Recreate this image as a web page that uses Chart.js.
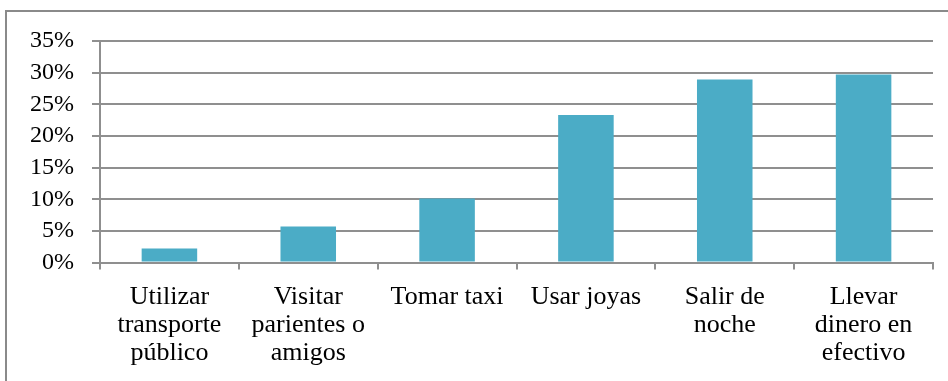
<!DOCTYPE html>
<html>
<head>
<meta charset="utf-8">
<script src="https://cdn.jsdelivr.net/npm/chart.js@4/dist/chart.umd.min.js"></script>
<style>
    html, body { margin: 0; padding: 0; background: #fff; overflow: hidden; }
    #wrap { position: relative; width: 948px; height: 381px; overflow: hidden; }
    #frame {
        position: absolute; left: 5px; top: 10px; width: 1000px; height: 400px;
        border-left: 2px solid #8a8a8a; border-top: 2px solid #8a8a8a;
        box-sizing: border-box; pointer-events: none;
    }
    canvas { position: absolute; left: 0; top: 0; }
</style>
</head>
<body>
<div id="wrap">
    <div id="frame"></div>
    <canvas id="riskChart" width="948" height="381"></canvas>
</div>
<script>
const categories = [
    ['Utilizar', 'transporte', 'público'],
    ['Visitar', 'parientes o', 'amigos'],
    'Tomar taxi',
    'Usar joyas',
    ['Salir de', 'noche'],
    ['Llevar', 'dinero en', 'efectivo']
];
const percentages = [2.2, 5.7, 10.1, 23.3, 28.9, 29.7];
const yMax = 35;
const yStep = 5;

const axisGray = '#8f8f8f';
const serif = '"Liberation Serif", "Times New Roman", serif';

const ctx = document.getElementById('riskChart').getContext('2d');
const chart = new Chart(ctx, {
    type: 'bar',
    data: {
        labels: categories,
        datasets: [{
            data: percentages,
            backgroundColor: '#4bacc6',
            borderWidth: 0,
            categoryPercentage: 1.0,
            barPercentage: 0.4
        }]
    },
    options: {
        responsive: false,
        animation: false,
        layout: { padding: { top: 41, right: 15, left: 0, bottom: 0 } },
        plugins: {
            legend: { display: false },
            tooltip: { enabled: false }
        },
        scales: {
            y: {
                min: 0,
                max: yMax,
                ticks: {
                    stepSize: yStep,
                    autoSkip: false,
                    color: '#000',
                    padding: 18,
                    font: { family: serif, size: 24 },
                    callback: value => value + '%'
                },
                grid: { color: axisGray, lineWidth: 2, tickLength: 8 },
                border: { display: true, color: axisGray, width: 2 },
                afterFit: scale => { scale.width = 100; }
            },
            x: {
                offset: true,
                ticks: {
                    color: '#000',
                    autoSkip: false,
                    maxRotation: 0,
                    padding: 14,
                    font: { family: serif, size: 26, lineHeight: 28 / 26 }
                },
                grid: {
                    offset: true,
                    drawOnChartArea: false,
                    color: axisGray,
                    lineWidth: 2,
                    tickLength: 7
                },
                border: { display: true, color: axisGray, width: 2 },
                afterFit: scale => { scale.height = 381 - 262.5; }
            }
        }
    }
});
</script>
</body>
</html>
